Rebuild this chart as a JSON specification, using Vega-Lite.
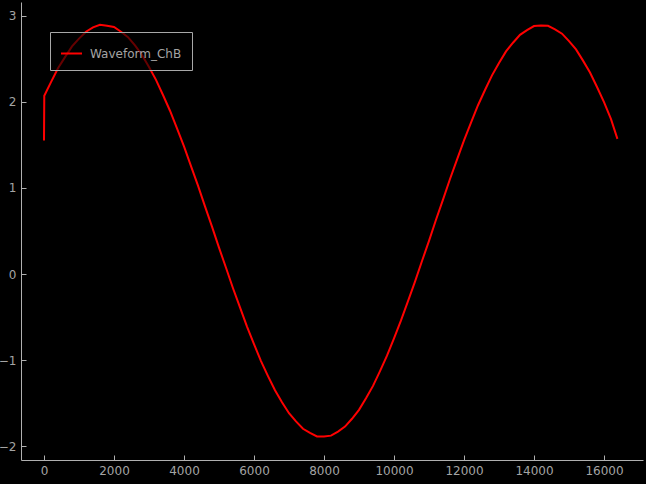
{
  "$schema": "https://vega.github.io/schema/vega-lite/v6.json",
  "width": 622,
  "height": 458,
  "autosize": {"type": "none"},
  "padding": {"left": 21, "top": 2, "right": 3, "bottom": 24},
  "background": "#000000",
  "config": {
    "view": {"stroke": null, "fill": "#000000"},
    "font": "DejaVu Sans",
    "axis": {
      "grid": false,
      "domainColor": "#b0b0b0",
      "tickColor": "#b0b0b0",
      "labelColor": "#a4a4a4",
      "labelFont": "DejaVu Sans",
      "labelFontSize": 12,
      "title": null
    }
  },
  "data": {
    "values": [
      {"x": 0, "y": 1.55, "s": "Waveform_ChB"},
      {"x": 8, "y": 2.07, "s": "Waveform_ChB"},
      {"x": 200, "y": 2.23, "s": "Waveform_ChB"},
      {"x": 400, "y": 2.39, "s": "Waveform_ChB"},
      {"x": 600, "y": 2.52, "s": "Waveform_ChB"},
      {"x": 800, "y": 2.645, "s": "Waveform_ChB"},
      {"x": 1000, "y": 2.735, "s": "Waveform_ChB"},
      {"x": 1200, "y": 2.815, "s": "Waveform_ChB"},
      {"x": 1400, "y": 2.865, "s": "Waveform_ChB"},
      {"x": 1600, "y": 2.895, "s": "Waveform_ChB"},
      {"x": 1800, "y": 2.885, "s": "Waveform_ChB"},
      {"x": 2000, "y": 2.87, "s": "Waveform_ChB"},
      {"x": 2200, "y": 2.815, "s": "Waveform_ChB"},
      {"x": 2400, "y": 2.752, "s": "Waveform_ChB"},
      {"x": 2600, "y": 2.655, "s": "Waveform_ChB"},
      {"x": 2800, "y": 2.545, "s": "Waveform_ChB"},
      {"x": 3000, "y": 2.405, "s": "Waveform_ChB"},
      {"x": 3200, "y": 2.256, "s": "Waveform_ChB"},
      {"x": 3400, "y": 2.08, "s": "Waveform_ChB"},
      {"x": 3600, "y": 1.897, "s": "Waveform_ChB"},
      {"x": 3800, "y": 1.691, "s": "Waveform_ChB"},
      {"x": 4000, "y": 1.482, "s": "Waveform_ChB"},
      {"x": 4200, "y": 1.254, "s": "Waveform_ChB"},
      {"x": 4400, "y": 1.027, "s": "Waveform_ChB"},
      {"x": 4600, "y": 0.786, "s": "Waveform_ChB"},
      {"x": 4800, "y": 0.551, "s": "Waveform_ChB"},
      {"x": 5000, "y": 0.307, "s": "Waveform_ChB"},
      {"x": 5200, "y": 0.073, "s": "Waveform_ChB"},
      {"x": 5400, "y": -0.165, "s": "Waveform_ChB"},
      {"x": 5600, "y": -0.388, "s": "Waveform_ChB"},
      {"x": 5800, "y": -0.61, "s": "Waveform_ChB"},
      {"x": 6000, "y": -0.813, "s": "Waveform_ChB"},
      {"x": 6200, "y": -1.011, "s": "Waveform_ChB"},
      {"x": 6400, "y": -1.185, "s": "Waveform_ChB"},
      {"x": 6600, "y": -1.35, "s": "Waveform_ChB"},
      {"x": 6800, "y": -1.489, "s": "Waveform_ChB"},
      {"x": 7000, "y": -1.616, "s": "Waveform_ChB"},
      {"x": 7200, "y": -1.712, "s": "Waveform_ChB"},
      {"x": 7400, "y": -1.797, "s": "Waveform_ChB"},
      {"x": 7600, "y": -1.846, "s": "Waveform_ChB"},
      {"x": 7800, "y": -1.886, "s": "Waveform_ChB"},
      {"x": 8000, "y": -1.887, "s": "Waveform_ChB"},
      {"x": 8200, "y": -1.877, "s": "Waveform_ChB"},
      {"x": 8400, "y": -1.83, "s": "Waveform_ChB"},
      {"x": 8600, "y": -1.772, "s": "Waveform_ChB"},
      {"x": 8800, "y": -1.681, "s": "Waveform_ChB"},
      {"x": 9000, "y": -1.577, "s": "Waveform_ChB"},
      {"x": 9200, "y": -1.444, "s": "Waveform_ChB"},
      {"x": 9400, "y": -1.299, "s": "Waveform_ChB"},
      {"x": 9600, "y": -1.128, "s": "Waveform_ChB"},
      {"x": 9800, "y": -0.948, "s": "Waveform_ChB"},
      {"x": 10000, "y": -0.746, "s": "Waveform_ChB"},
      {"x": 10200, "y": -0.539, "s": "Waveform_ChB"},
      {"x": 10400, "y": -0.314, "s": "Waveform_ChB"},
      {"x": 10600, "y": -0.089, "s": "Waveform_ChB"},
      {"x": 10800, "y": 0.151, "s": "Waveform_ChB"},
      {"x": 11000, "y": 0.386, "s": "Waveform_ChB"},
      {"x": 11200, "y": 0.63, "s": "Waveform_ChB"},
      {"x": 11400, "y": 0.864, "s": "Waveform_ChB"},
      {"x": 11600, "y": 1.104, "s": "Waveform_ChB"},
      {"x": 11800, "y": 1.329, "s": "Waveform_ChB"},
      {"x": 12000, "y": 1.553, "s": "Waveform_ChB"},
      {"x": 12200, "y": 1.759, "s": "Waveform_ChB"},
      {"x": 12400, "y": 1.961, "s": "Waveform_ChB"},
      {"x": 12600, "y": 2.138, "s": "Waveform_ChB"},
      {"x": 12800, "y": 2.308, "s": "Waveform_ChB"},
      {"x": 13000, "y": 2.452, "s": "Waveform_ChB"},
      {"x": 13200, "y": 2.586, "s": "Waveform_ChB"},
      {"x": 13400, "y": 2.687, "s": "Waveform_ChB"},
      {"x": 13600, "y": 2.779, "s": "Waveform_ChB"},
      {"x": 13800, "y": 2.833, "s": "Waveform_ChB"},
      {"x": 14000, "y": 2.88, "s": "Waveform_ChB"},
      {"x": 14200, "y": 2.886, "s": "Waveform_ChB"},
      {"x": 14400, "y": 2.884, "s": "Waveform_ChB"},
      {"x": 14600, "y": 2.843, "s": "Waveform_ChB"},
      {"x": 14800, "y": 2.792, "s": "Waveform_ChB"},
      {"x": 15000, "y": 2.706, "s": "Waveform_ChB"},
      {"x": 15200, "y": 2.609, "s": "Waveform_ChB"},
      {"x": 15400, "y": 2.479, "s": "Waveform_ChB"},
      {"x": 15600, "y": 2.34, "s": "Waveform_ChB"},
      {"x": 15800, "y": 2.172, "s": "Waveform_ChB"},
      {"x": 16000, "y": 1.998, "s": "Waveform_ChB"},
      {"x": 16200, "y": 1.8, "s": "Waveform_ChB"},
      {"x": 16383, "y": 1.57, "s": "Waveform_ChB"}
    ]
  },
  "layer": [
    {
      "mark": {"type": "line", "strokeWidth": 2, "clip": true},
      "encoding": {
        "x": {
          "field": "x",
          "type": "quantitative",
          "scale": {"domain": [-657, 17114], "nice": false, "zero": false},
          "axis": {"values": [0, 2000, 4000, 6000, 8000, 10000, 12000, 14000, 16000], "format": "d", "ticks": false, "labelPadding": 5, "orient": "bottom"}
        },
        "y": {
          "field": "y",
          "type": "quantitative",
          "scale": {"domain": [-2.16, 3.16], "nice": false, "zero": false},
          "axis": {"values": [-2, -1, 0, 1, 2, 3], "format": "d", "ticks": false, "labelPadding": 5, "orient": "left"}
        },
        "color": {
          "field": "s",
          "type": "nominal",
          "scale": {"range": ["#ff0000"]},
          "legend": {
            "title": null,
            "orient": "none",
            "legendX": 29,
            "legendY": 30,
            "symbolType": "stroke",
            "symbolSize": 441,
            "symbolStrokeWidth": 2,
            "padding": 10,
            "fillColor": "rgba(0,0,0,0.6)",
            "strokeColor": "#a8a8a8",
            "labelColor": "#a4a4a4",
            "labelFont": "DejaVu Sans",
            "labelFontSize": 12,
            "labelOffset": 7,
            "cornerRadius": 0
          }
        }
      }
    },
    {
      "mark": {"type": "line", "opacity": 0, "clip": true},
      "encoding": {
        "x": {
          "field": "x",
          "type": "quantitative",
          "scale": {"domain": [-657, 17114], "nice": false, "zero": false},
          "axis": {"values": [0, 2000, 4000, 6000, 8000, 10000, 12000, 14000, 16000], "labels": false, "domain": false, "tickSize": 5, "offset": -5, "orient": "bottom"}
        },
        "y": {
          "field": "y",
          "type": "quantitative",
          "scale": {"domain": [-2.16, 3.16], "nice": false, "zero": false},
          "axis": {"values": [-2, -1, 0, 1, 2, 3], "labels": false, "domain": false, "tickSize": 5, "offset": -5, "orient": "left"}
        }
      }
    }
  ],
  "resolve": {"axis": {"x": "independent", "y": "independent"}}
}
